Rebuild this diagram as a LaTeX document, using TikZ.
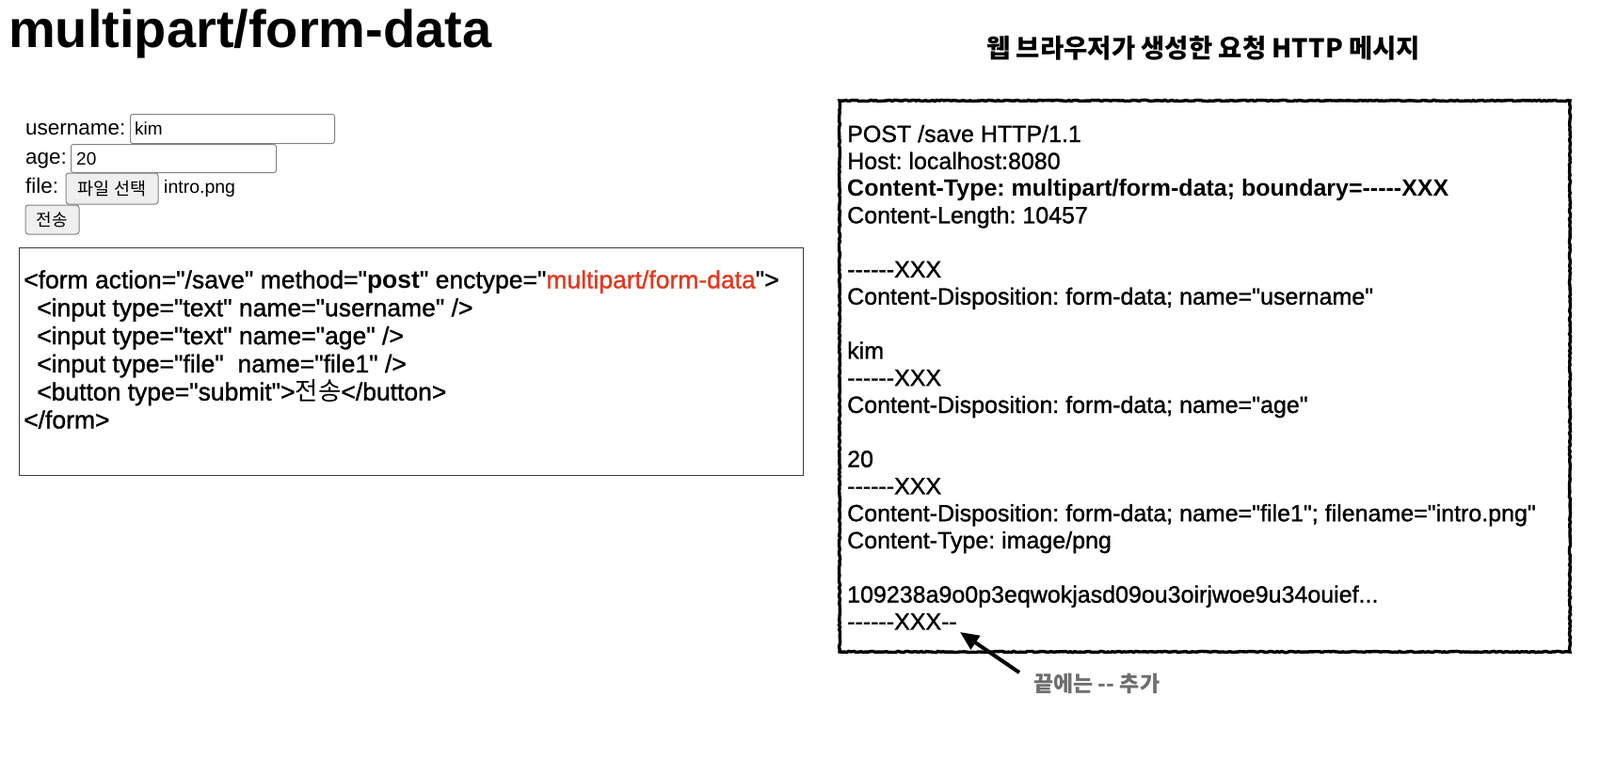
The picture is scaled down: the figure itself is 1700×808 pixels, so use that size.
\documentclass[tikz,border=0pt]{standalone}
\usepackage{fontspec}
\newfontfamily\hv{Liberation Sans}
\newfontfamily\hvm{Liberation Sans}[UprightFeatures={FakeBold=1.1}]
\newfontfamily\kr{Noto Sans CJK KR}
\usetikzlibrary{arrows.meta,decorations.pathmorphing}
\definecolor{redtxt}{RGB}{226,56,30}
\definecolor{btnfill}{RGB}{239,239,239}
\definecolor{btnline}{RGB}{130,130,130}
\definecolor{codeline}{RGB}{60,60,60}
\definecolor{notegray}{RGB}{110,110,110}
\newcommand\myfs[1]{\fontsize{#1}{#1}\selectfont}
\begin{document}
\begin{tikzpicture}[x=1pt,y=-1pt,
  txt/.style={inner sep=0pt, anchor=base west},
  code/.style={txt, font=\hvm\frenchspacing\myfs{26.5}},
  http/.style={txt, font=\hvm\frenchspacing\myfs{25}},
  lbl/.style={txt, font=\hv\myfs{22.5}},
  val/.style={txt, font=\hv\myfs{19}},
  inputbox/.style={draw=btnline, line width=1pt, fill=white, rounded corners=2.5pt, anchor=north west, inner sep=0pt},
  btnbox/.style={draw=btnline, line width=1pt, fill=btnfill, rounded corners=3pt, inner sep=0pt},
  sketchbox/.style={draw=black, line width=3.4pt, decorate, decoration={random steps, segment length=2.5pt, amplitude=0.6pt}},
  notearrow/.style={line width=4pt, -{Triangle[length=20pt,width=17pt]}}]
\hv\frenchspacing
\useasboundingbox (0,0) rectangle (1700,808);
\fill[white] (0,0) rectangle (1700,808);

% titles
\node[txt, font=\hv\bfseries\myfs{56}] (title) at (9,51) {multipart/form-data};
\node[anchor=west, inner sep=0pt, font=\kr\bfseries\myfs{27.5}] (ktitle) at (1048,51) {웹 브라우저가 생성한 요청 HTTP 메시지};

% form
\node[lbl] (lu) at (27,143) {username:};
\node[inputbox, minimum width=217pt, minimum height=31pt] (iu) at (138,121) {};
\node[val] (tu) at (143,143) {kim};
\node[lbl] (la) at (27,174) {age:};
\node[inputbox, minimum width=218pt, minimum height=30pt] (ia) at (75,153) {};
\node[val] (ta) at (81,175) {20};
\node[lbl] (lf) at (27,205) {file:};
\node[btnbox, minimum width=98pt, minimum height=33pt, font=\kr\myfs{18.5}] (bf) at (119,200.5) {파일 선택};
\node[txt, font=\hv\myfs{19.5}] (fn) at (174,205) {intro.png};
\node[btnbox, minimum width=57pt, minimum height=31pt, font=\kr\myfs{18}] (bs) at (55.5,233.5) {전송};

% code box
\node[draw=codeline, line width=1.2pt, anchor=north west, minimum width=833.5pt, minimum height=242pt, inner sep=0pt] (codebox) at (19.5,263) {};
\node[code] (c1) at (25,306.5) {<form action="/save" method="\textbf{post}" enctype="\textcolor{redtxt}{multipart/form-data}">};
\node[code] (c2) at (39,336.3) {<input type="text" name="username" />};
\node[code] (c3) at (39,366.1) {<input type="text" name="age" />};
\node[code] (c4) at (39,395.9) {<input type="file"\ \ name="file1" />};
\node[code] (c5) at (39,425.7) {<button type="submit">{\kr 전송}</button>};
\node[code] (c6) at (25,455.5) {</form>};

% http message box
\coordinate (m1) at (892,107);
\coordinate (m2) at (1668,693);
\draw[sketchbox] (m1) rectangle (m2);
\node[http] (h0) at (900,151) {POST /save HTTP/1.1};
\node[http] (h1) at (900,179.8) {Host: localhost:8080};
\node[http] (h2) at (900,208.6) {\textbf{Content-Type: multipart/form-data; boundary=-----XXX}};
\node[http] (h3) at (900,237.4) {Content-Length: 10457};
\node[http] (h5) at (900,295) {------XXX};
\node[http] (h6) at (900,323.8) {Content-Disposition: form-data; name="username"};
\node[http] (h8) at (900,381.4) {kim};
\node[http] (h9) at (900,410.2) {------XXX};
\node[http] (h10) at (900,439) {Content-Disposition: form-data; name="age"};
\node[http] (h12) at (900,496.6) {20};
\node[http] (h13) at (900,525.4) {------XXX};
\node[http] (h14) at (900,554.2) {Content-Disposition: form-data; name="file1"; filename="intro.png"};
\node[http] (h15) at (900,583) {Content-Type: image/png};
\node[http] (h17) at (900,640.6) {109238a9o0p3eqwokjasd09ou3oirjwoe9u34ouief...};
\node[http] (h18) at (900,669.4) {------XXX--};

% note
\node[anchor=west, inner sep=0pt, text=notegray, font=\kr\bfseries\myfs{23}] (note) at (1098,727) {끝에는 -- 추가};
\coordinate (tail) at (1083,715);
\coordinate (tip) at (1020,672);
\draw[notearrow] (tail) -- (tip);
\end{tikzpicture}
\end{document}
